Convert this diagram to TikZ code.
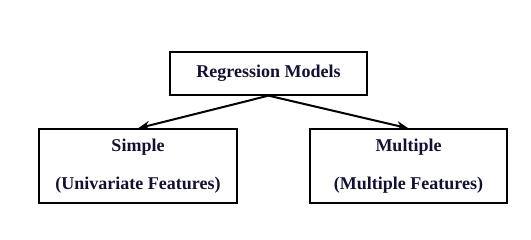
\documentclass[tikz,border=0pt]{standalone}
\usepackage{fontspec}
\setmainfont{Liberation Serif}
\usetikzlibrary{arrows.meta}
\definecolor{txt}{RGB}{18,18,48}
\begin{document}
\begin{tikzpicture}[x=1pt,y=-1pt,
  box/.style={draw=black,line width=1.3pt,inner sep=0pt,align=center,
    text=txt,font=\fontsize{18}{38}\selectfont\bfseries},
  conn/.style={line width=2pt,-{Stealth[length=12pt,width=9pt]}}]
\useasboundingbox (0,0) rectangle (531,240);
\node[box,minimum width=197pt,minimum height=43pt] (top) at (268.5,73.5) {Regression Models};
\node[box,minimum width=198pt,minimum height=74pt] (left) at (138,166) {Simple\\(Univariate Features)};
\node[box,minimum width=197pt,minimum height=74pt] (right) at (408.5,166) {Multiple\\(Multiple Features)};
\draw[conn] (top.south) -- (left.north);
\draw[conn] (top.south) -- (right.north);
\end{tikzpicture}
\end{document}
